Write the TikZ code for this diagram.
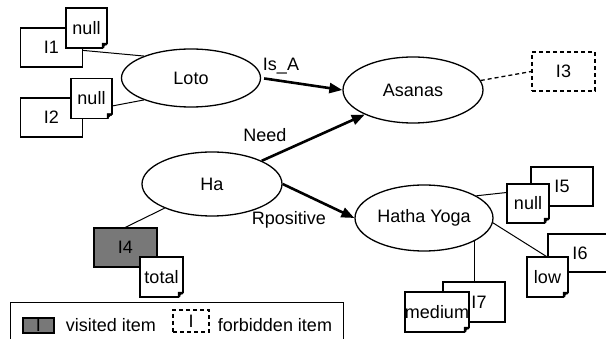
\documentclass[tikz,border=0pt]{standalone}
\usepackage{fontspec}
\setmainfont{Liberation Sans}
\usetikzlibrary{arrows.meta,backgrounds,shapes.geometric}
\definecolor{visitgray}{HTML}{787878}

\begin{document}
\begin{tikzpicture}[x=1pt,y=-1pt,
  every node/.style={font=\fontsize{18}{21}\selectfont, inner sep=0pt},
  concept/.style={ellipse, draw, line width=1.3pt, fill=white},
  item/.style={draw, line width=1.4pt, fill=white, minimum width=62pt, minimum height=39pt},
  visited/.style={item, fill=visitgray},
  forbidden/.style={item, dash pattern=on 4pt off 3pt},
  note/.style={draw, line width=1.4pt, fill=white, minimum width=41pt, minimum height=40pt},
  rel/.style={line width=2.6pt, -{Triangle[length=13pt,width=10pt]}},
  link/.style={line width=1pt},
  forbidlink/.style={line width=1.3pt, dash pattern=on 4pt off 3pt}]

\useasboundingbox (0,0) rectangle (606,339);

% concepts
\node[concept, minimum width=139pt, minimum height=58pt] (loto) at (191,78) {Loto\hspace{13pt}};
\node[concept, minimum width=140pt, minimum height=66pt] (asanas) at (413,90) {Asanas};
\node[concept, minimum width=140pt, minimum height=64pt] (ha) at (212,184) {Ha};
\node[concept, minimum width=138pt, minimum height=66pt] (hy) at (424,218) {Hatha Yoga};

% items with their notes
\node[item] (i1) at (51.5,47.5) {I1};
\node[note] (n1) at (86.5,28) {null};
\node[item] (i2) at (51.5,117.5) {I2};
\node[note] (n2) at (91.5,98.5) {null};
\node[forbidden, minimum width=63pt] (i3) at (563.5,71.5) {I3};
\node[visited, minimum width=63pt] (i4) at (125.5,247.5) {I4};
\node[note, minimum width=43pt] (n4) at (161.5,277) {total};
\node[item] (i5) at (562,186.5) {I5};
\node[note, minimum width=42pt, minimum height=39pt] (n5) at (528,203.5) {null};
\node[item, minimum width=64pt, minimum height=38pt] (i6) at (580,253) {I6};
\node[note] (n6) at (547.5,277) {low};
\node[item, minimum height=40pt] (i7) at (474,302) {\hspace{10pt}I7};
\node[note, minimum width=40pt] (n7) at (437,312) {medium};

% folded corners of the notes
\foreach \n in {n1,n2,n4,n5,n6,n7} {
  \fill[white] ([xshift=-5.5pt,yshift=-1pt]\n.south east) -- ([xshift=1pt,yshift=-1pt]\n.south east)
     -- ([xshift=1pt,yshift=5.5pt]\n.south east) -- cycle;
  \filldraw[line width=0.8pt, line join=round] ([xshift=-5.5pt,yshift=0.7pt]\n.south east)
     -- ([xshift=-0.7pt,yshift=5.5pt]\n.south east) -- ([xshift=-5.5pt,yshift=5.5pt]\n.south east) -- cycle;
}

% plain links, kept behind the boxes
\begin{scope}[on background layer]
  \draw[link] (i1) -- (loto.155);
  \draw[link] (i2) -- (loto.205);
  \draw[link] (i5) -- (hy.23);
  \draw[link] (i7) -- (i7 |- hy);
\end{scope}
\draw[link] (i4.north) -- (ha.207);
\draw[link] (hy.-4) -- ([yshift=-4pt]i6.west);
\draw[forbidlink] (asanas.8) -- (i3.west);

% relations
\draw[rel, shorten <=3pt] (loto.east) -- (asanas.west);
\draw[rel] (ha.25) -- (asanas.207);
\draw[rel] (ha.east) -- (hy.west);
\node (isa) at (281,66) {Is\_A};
\node (need) at (265,135) {Need};
\node (rpos) at (289,220) {Rpositive};

% legend
\node[draw, line width=1.2pt, minimum width=333pt, minimum height=50pt, anchor=north west] (legend) at (10,302) {};
\node[visited, minimum width=31pt, minimum height=15pt] (lv) at (38.5,325.5) {I};
\node (lvt) at (111,325) {visited item};
\node[forbidden, minimum width=36pt, minimum height=22pt] (lf) at (191,321) {I};
\node (lft) at (275,325) {forbidden item};
\end{tikzpicture}
\end{document}
